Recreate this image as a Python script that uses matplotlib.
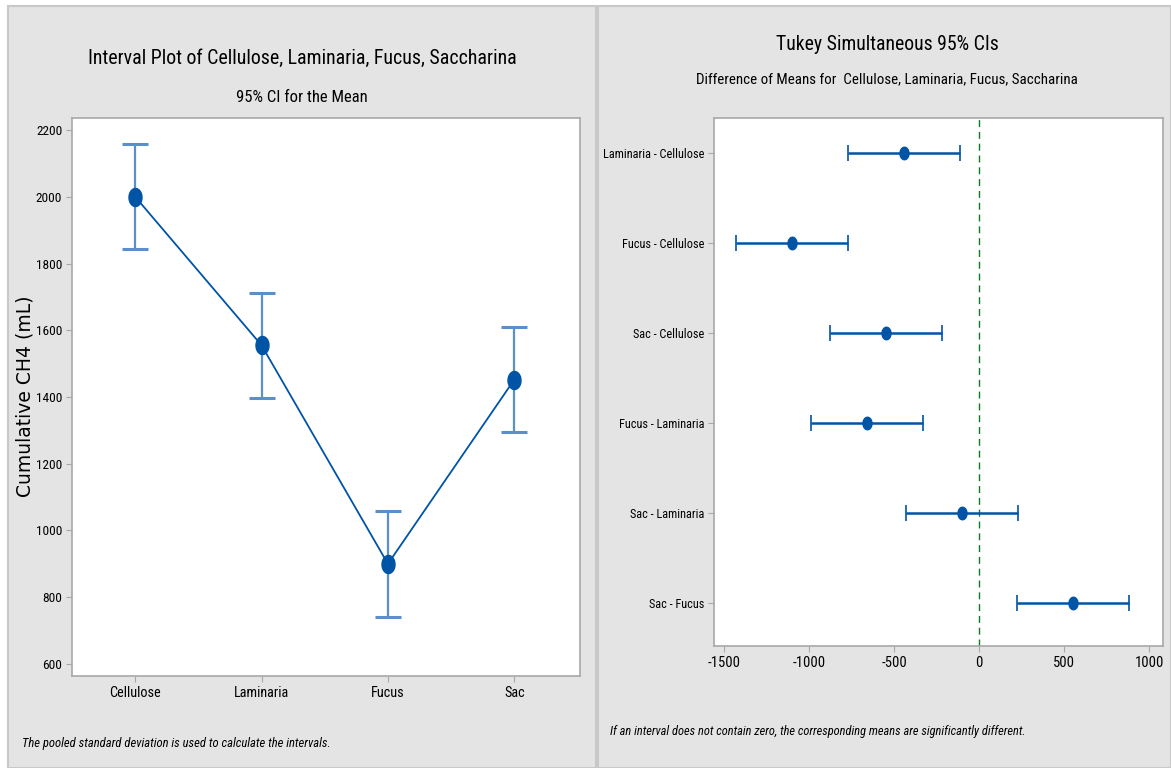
import matplotlib
matplotlib.use("Agg")
import matplotlib.pyplot as plt
from matplotlib import font_manager
from matplotlib.patches import Rectangle
from matplotlib.path import Path
import numpy as np

# ---- data ----
groups = ["Cellulose", "Laminaria", "Fucus", "Sac"]
group_means = [2000, 1555, 900, 1452]
ci_half_width = [158, 158, 158, 158]

pairs = ["Laminaria - Cellulose", "Fucus - Cellulose", "Sac - Cellulose",
         "Fucus - Laminaria", "Sac - Laminaria", "Sac - Fucus"]
diff_means = [-443, -1100, -545, -657, -102, 553]
diff_lower = [-772, -1429, -874, -986, -431, 224]
diff_upper = [-114, -771, -216, -328, 227, 882]

y_ticks_left = [600, 800, 1000, 1200, 1400, 1600, 1800, 2000, 2200]
x_ticks_right = [-1500, -1000, -500, 0, 500, 1000]


def pick_font(candidates):
    for name in candidates:
        try:
            font_manager.findfont(name, fallback_to_default=False)
            return name
        except Exception:
            continue
    return "DejaVu Sans"


NARROW = pick_font(["Liberation Sans Narrow", "Roboto Condensed", "Open Sans Condensed",
                    "Arial Narrow", "Noto Sans Condensed", "Liberation Sans"])

BLUE = "#0054a6"
BAR_BLUE = "#5a8fcc"
PANEL = "#e4e4e4"
EDGE = "#c8c8c8"
SPINE = "#a8a8a8"

# vertically stretched ellipse marker
t = np.linspace(0, 2 * np.pi, 40)
ellipse = Path(np.column_stack([0.72 * np.cos(t), np.sin(t)]))

W, H = 1171, 768
fig = plt.figure(figsize=(W / 100, H / 100), dpi=100, facecolor="white")

# panel backgrounds
for x0, x1 in [(8, 596), (598, 1171)]:
    fig.add_artist(Rectangle((x0 / W, 0), (x1 - x0) / W, 1 - 6 / H,
                             transform=fig.transFigure, facecolor=PANEL,
                             edgecolor=EDGE, linewidth=1.5, zorder=0))

# ---- left: interval plot ----
ax = fig.add_axes([72 / W, 1 - 676 / H, (580 - 72) / W, (676 - 118) / H])
xpos = np.arange(len(groups))
_, caps, _ = ax.errorbar(xpos, group_means, yerr=ci_half_width, fmt="none",
                         ecolor=BAR_BLUE, elinewidth=1.6, capsize=9.5,
                         capthick=2.2, zorder=2)
for c in caps:
    c.set_color(BLUE)
ax.plot(xpos, group_means, color=BLUE, linewidth=1.3, zorder=3)
ax.plot(xpos, group_means, linestyle="none", marker=ellipse, markersize=13,
        color=BLUE, zorder=4)
ax.set_xlim(-0.5, 3.52)
ax.set_ylim(564, 2236)
ax.set_xticks(xpos)
ax.set_xticklabels(groups, family=NARROW, size=10.3)
ax.set_yticks(y_ticks_left)
ax.set_yticklabels([str(v) for v in y_ticks_left], family=NARROW, size=9.6)

fig.text(25 / W, 1 - 396 / H, "Cumulative CH4 (mL)", rotation=90,
         ha="center", va="center", family="DejaVu Sans", size=13.5)

# ---- right: Tukey simultaneous CIs ----
ax2 = fig.add_axes([714 / W, 1 - 646 / H, (1163 - 714) / W, (646 - 118) / H])
ypos = np.arange(len(pairs))
err = [np.array(diff_means) - np.array(diff_lower),
       np.array(diff_upper) - np.array(diff_means)]
ax2.axvline(0, color="#0f7a1e", linestyle=(0, (5, 3.5)), linewidth=1.0, zorder=1)
ax2.errorbar(diff_means, ypos, xerr=err, fmt="none", ecolor=BLUE,
             elinewidth=1.8, capsize=5.5, capthick=1.2, zorder=2)
ax2.plot(diff_means, ypos, linestyle="none", marker=ellipse, markersize=9,
         color=BLUE, zorder=3)
ax2.set_xlim(-1559, 1082)
ax2.set_ylim(5.48, -0.39)
ax2.set_yticks(ypos)
ax2.set_yticklabels(pairs, family=NARROW, size=8.8)
ax2.set_xticks(x_ticks_right)
ax2.set_xticklabels([str(v) for v in x_ticks_right], family=NARROW, size=10.5)

for a in (ax, ax2):
    a.set_facecolor("white")
    for s in a.spines.values():
        s.set_color(SPINE)
        s.set_linewidth(1.2)
    a.tick_params(direction="out", length=4, width=0.8, color=SPINE,
                  labelcolor="black", pad=3)

# ---- titles and notes ----
fig.text(302 / W, 1 - 58 / H, "Interval Plot of Cellulose, Laminaria, Fucus, Saccharina",
         ha="center", va="center", family=NARROW, size=14.3)
fig.text(302 / W, 1 - 98 / H, "95% CI for the Mean",
         ha="center", va="center", family=NARROW, size=12)
fig.text(22 / W, 1 - 744 / H,
         "The pooled standard deviation is used to calculate the intervals.",
         ha="left", va="center", family=NARROW, size=9.1, style="italic")

fig.text(887 / W, 1 - 45 / H, "Tukey Simultaneous 95% CIs",
         ha="center", va="center", family=NARROW, size=14.2)
fig.text(887 / W, 1 - 79 / H,
         "Difference of Means for  Cellulose, Laminaria, Fucus, Saccharina",
         ha="center", va="center", family=NARROW, size=10.8)
fig.text(610 / W, 1 - 731 / H,
         "If an interval does not contain zero, the corresponding means are significantly different.",
         ha="left", va="center", family=NARROW, size=8.9, style="italic")

fig.savefig("out.png", dpi=100, facecolor="white")
